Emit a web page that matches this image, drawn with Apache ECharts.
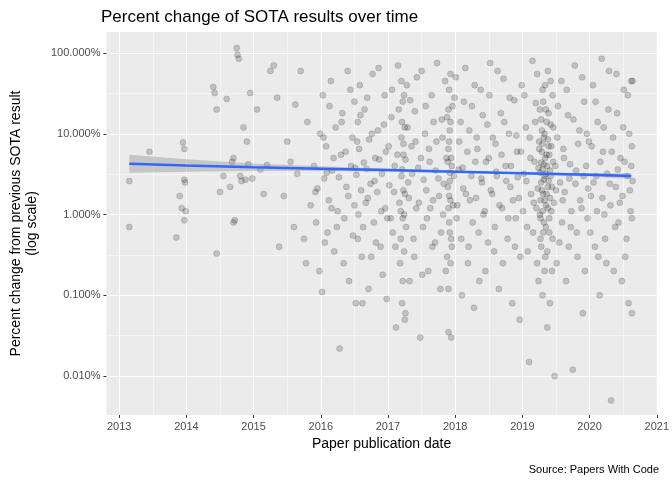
<!DOCTYPE html>
<html>
<head>
<meta charset="utf-8">
<script src="https://cdn.jsdelivr.net/npm/echarts@6/dist/echarts.min.js"></script>
<style>html,body{margin:0;background:#fff}#chart{width:672px;height:480px}</style>
</head>
<body>
<div id="chart"></div>
<script>
// paper date (decimal year), percent change vs previous SOTA (%)
var points = [
 [2013.15,2.6],[2013.15,0.7],[2013.45,6.0],[2013.9,1.7],[2013.95,7.8],[2013.97,6.5],[2013.97,2.7],[2013.98,2.5],[2013.97,0.85],[2013.93,1.2],[2013.85,0.52],[2013.99,1.1],
 [2014.4,38],[2014.42,32],[2014.45,20],[2014.45,0.33],[2014.55,3.0],[2014.5,1.9],[2014.6,27],[2014.65,2.2],[2014.68,4.5],[2014.7,0.8],[2014.72,0.85],[2014.7,5],[2014.75,115],[2014.76,95],[2014.78,85],[2014.8,3],[2014.82,2.6],[2014.85,12],[2014.9,8],[2014.95,32],[2014.98,2.8],[2014.88,2.7],[2014.92,4.2],
 [2015.05,20],[2015.1,3.6],[2015.15,1.8],[2015.2,4.1],[2015.25,60],[2015.3,70],[2015.35,28],[2015.38,0.4],[2015.45,1.7],[2015.5,8],[2015.55,4.5],[2015.6,0.7],[2015.62,23],[2015.65,3.2],[2015.7,60],[2015.75,0.5],[2015.78,0.25],[2015.8,14],[2015.85,1.3],[2015.9,4],[2015.93,0.8],[2015.95,2.1],[2015.98,0.2],[2015.99,10],
 [2016.02,0.11],[2016.03,30],[2016.05,2.8],[2016.08,7],[2016.1,0.6],[2016.12,1.5],[2016.15,45],[2016.17,3.5],[2016.2,0.35],[2016.22,12],[2016.25,1.1],[2016.28,0.022],[2016.3,5.5],[2016.32,18],[2016.35,0.9],[2016.38,2.2],[2016.4,60],[2016.42,0.15],[2016.45,4],[2016.47,9],[2016.5,25],[2016.5,1.3],[2016.52,0.08],[2016.53,3.1],[2016.55,14],[2016.55,0.5],[2016.57,6.5],[2016.58,40],[2016.6,2],[2016.62,0.08],[2016.63,0.7],[2016.65,20],[2016.68,3.7],[2016.7,1.6],[2016.72,8.5],[2016.75,0.3],[2016.77,55],[2016.8,2.6],[2016.82,0.45],[2016.85,11],[2016.87,4.8],[2016.9,1.1],[2016.92,0.18],[2016.95,30],[2016.97,6],[2016.99,0.9],
 [2017.02,2.3],[2017.05,16],[2017.07,0.6],[2017.1,4],[2017.12,0.04],[2017.15,70],[2017.17,1.4],[2017.18,0.25],[2017.2,9],[2017.2,3],[2017.21,0.08],[2017.22,0.9],[2017.22,25],[2017.23,5.5],[2017.24,0.35],[2017.25,1.8],[2017.25,12],[2017.26,0.06],[2017.28,40],[2017.3,2.5],[2017.32,0.15],[2017.35,7],[2017.38,0.5],[2017.4,19],[2017.42,1.2],[2017.45,3.8],[2017.48,0.03],[2017.5,60],[2017.52,0.7],[2017.55,10],[2017.57,2],[2017.6,0.2],[2017.62,4.5],[2017.65,30],[2017.67,1.5],[2017.7,0.45],[2017.72,8],[2017.75,2.8],[2017.78,0.12],[2017.8,15],[2017.82,1],[2017.85,45],[2017.87,5],[2017.88,0.3],[2017.89,2.2],[2017.9,0.035],[2017.9,20],[2017.9,6.5],[2017.91,0.8],[2017.91,1.7],[2017.92,3.3],[2017.92,11],[2017.93,0.25],[2017.93,55],[2017.94,0.5],[2017.95,4],[2017.97,1.3],[2017.99,28],
 [2018.02,0.9],[2018.05,3.6],[2018.08,14],[2018.1,0.1],[2018.12,2.1],[2018.15,65],[2018.18,6],[2018.2,0.4],[2018.22,1.5],[2018.25,22],[2018.28,0.07],[2018.3,4.5],[2018.32,9],[2018.35,0.6],[2018.38,35],[2018.4,2.5],[2018.42,1],[2018.45,0.2],[2018.48,13],[2018.5,5],[2018.52,75],[2018.55,1.8],[2018.58,0.35],[2018.6,7.5],[2018.62,3],[2018.65,0.12],[2018.68,18],[2018.7,1.2],[2018.72,48],[2018.75,4],[2018.78,0.5],[2018.8,10],[2018.82,2.2],[2018.85,0.08],[2018.88,26],[2018.9,0.9],[2018.92,6],[2018.95,1.6],[2018.97,0.3],[2018.99,40],
 [2019.02,3.2],[2019.05,12],[2019.07,0.7],[2019.1,0.015],[2019.12,5],[2019.15,80],[2019.17,1.4],[2019.2,24],[2019.22,0.25],[2019.24,3.8],[2019.25,8],[2019.26,1],[2019.27,0.5],[2019.28,15],[2019.28,2.5],[2019.29,6],[2019.3,0.1],[2019.3,35],[2019.31,1.8],[2019.32,4.2],[2019.32,0.8],[2019.33,10],[2019.33,3],[2019.34,0.3],[2019.35,20],[2019.35,1.3],[2019.36,5.5],[2019.37,0.04],[2019.38,2.2],[2019.38,60],[2019.39,7],[2019.4,0.6],[2019.41,3.5],[2019.42,13],[2019.43,1.1],[2019.44,0.2],[2019.45,30],[2019.46,4.5],[2019.48,0.01],[2019.5,2],[2019.52,9],[2019.55,0.45],[2019.58,45],[2019.6,1.5],[2019.62,5],[2019.65,0.15],[2019.68,17],[2019.7,2.8],[2019.72,0.7],[2019.75,0.012],[2019.78,70],[2019.8,3.5],[2019.82,0.3],[2019.85,11],[2019.88,1.2],[2019.9,0.06],[2019.92,25],[2019.95,4],[2019.97,0.9],[2019.99,8],
 [2020.02,1.7],[2020.05,40],[2020.08,0.4],[2020.1,3],[2020.12,14],[2020.15,0.1],[2020.18,85],[2020.2,6],[2020.22,1],[2020.25,0.25],[2020.28,20],[2020.3,2.4],[2020.32,0.005],[2020.35,9],[2020.38,0.7],[2020.4,55],[2020.42,3.6],[2020.45,1.4],[2020.48,0.15],[2020.5,12],[2020.52,4.5],[2020.55,0.5],[2020.57,30],[2020.58,0.08],[2020.6,2],[2020.62,45],[2020.63,7],[2020.63,0.9]
];
// second pass of read-off points, mostly from the dense 2016-2020 region
var pointsDense = [
 [2015.92,1.9],[2016.04,9],[2016.06,0.45],[2016.09,3.3],[2016.13,22],[2016.16,1.2],[2016.19,5],[2016.24,0.7],[2016.27,2.9],[2016.31,14],[2016.34,0.25],[2016.37,6],[2016.41,1.7],[2016.44,35],[2016.48,0.55],[2016.51,3.8],[2016.54,8],[2016.56,1],[2016.59,17],[2016.61,0.3],[2016.64,4.4],[2016.67,1.4],[2016.69,28],[2016.71,0.12],[2016.74,2.4],[2016.76,10],[2016.79,0.8],[2016.81,5],[2016.84,1.9],[2016.86,65],[2016.89,0.4],[2016.91,3.2],[2016.94,13],[2016.96,1.2],[2016.98,0.09],
 [2017.01,7],[2017.04,0.9],[2017.06,35],[2017.09,1.9],[2017.11,0.4],[2017.14,5.5],[2017.16,20],[2017.19,1.1],[2017.19,0.5],[2017.2,45],[2017.21,3.6],[2017.21,14],[2017.22,0.15],[2017.23,2],[2017.23,7.5],[2017.24,30],[2017.24,1],[2017.25,0.05],[2017.26,4.8],[2017.27,0.7],[2017.29,12],[2017.31,1.6],[2017.33,26],[2017.36,3.2],[2017.39,0.3],[2017.41,8],[2017.43,50],[2017.46,1.4],[2017.49,5],[2017.51,0.18],[2017.53,2.7],[2017.56,22],[2017.58,0.9],[2017.61,6.5],[2017.63,1.2],[2017.66,0.4],[2017.68,14],[2017.71,3.5],[2017.73,75],[2017.76,1.7],[2017.79,0.6],[2017.81,9],[2017.83,2.4],[2017.86,0.2],[2017.88,16],[2017.89,4.5],[2017.9,1.2],[2017.9,0.12],[2017.91,35],[2017.91,8],[2017.92,2.6],[2017.92,0.6],[2017.93,14],[2017.93,1.5],[2017.94,5],[2017.94,0.03],[2017.95,0.4],[2017.96,22],[2017.98,3],
 [2018.01,50],[2018.03,1.3],[2018.06,8],[2018.09,0.5],[2018.11,3.8],[2018.13,25],[2018.16,1.8],[2018.19,0.25],[2018.21,11],[2018.24,3],[2018.26,0.8],[2018.29,40],[2018.31,1.6],[2018.33,6.5],[2018.36,0.15],[2018.39,2.8],[2018.41,17],[2018.44,1.1],[2018.46,4.5],[2018.49,0.45],[2018.51,30],[2018.53,2],[2018.56,9],[2018.59,0.7],[2018.61,3.4],[2018.63,60],[2018.66,1.3],[2018.69,5.5],[2018.71,0.25],[2018.73,14],[2018.76,2.6],[2018.79,0.9],[2018.81,28],[2018.83,4],[2018.86,1.5],[2018.89,0.4],[2018.91,9.5],[2018.93,2.9],[2018.96,0.05],[2018.98,6],
 [2019.01,1.1],[2019.03,30],[2019.06,2.6],[2019.08,0.35],[2019.11,9],[2019.13,1.8],[2019.16,0.6],[2019.18,4.5],[2019.19,14],[2019.21,1.2],[2019.22,55],[2019.23,2.1],[2019.24,0.15],[2019.25,6.5],[2019.26,3.3],[2019.26,20],[2019.27,1.5],[2019.27,0.9],[2019.28,4.4],[2019.28,0.4],[2019.29,11],[2019.29,2],[2019.3,7.5],[2019.3,1.1],[2019.3,3.6],[2019.31,0.6],[2019.31,25],[2019.32,2.7],[2019.32,9],[2019.33,1.5],[2019.33,0.2],[2019.34,5],[2019.34,40],[2019.35,3.2],[2019.35,0.7],[2019.36,1.8],[2019.36,14],[2019.37,4],[2019.37,0.35],[2019.38,8.5],[2019.38,1.2],[2019.39,2.6],[2019.39,18],[2019.4,0.9],[2019.4,5.5],[2019.41,1.6],[2019.41,0.08],[2019.42,3],[2019.42,45],[2019.43,7],[2019.44,2.2],[2019.45,0.5],[2019.46,12],[2019.47,1.4],[2019.49,4],[2019.51,0.25],[2019.53,22],[2019.56,2.5],[2019.59,0.8],[2019.61,6.5],[2019.63,1.9],[2019.66,35],[2019.69,0.4],[2019.71,4.2],[2019.73,1.1],[2019.76,15],[2019.79,2.4],[2019.81,0.6],[2019.83,7.5],[2019.86,1.5],[2019.89,50],[2019.91,3],[2019.93,0.2],[2019.96,10],[2019.98,2.1],
 [2020.01,0.6],[2020.03,7],[2020.06,2.5],[2020.09,25],[2020.11,1.1],[2020.13,0.3],[2020.16,4.5],[2020.19,1.6],[2020.21,12],[2020.23,0.5],[2020.26,3.2],[2020.29,60],[2020.31,1.3],[2020.33,6],[2020.36,0.2],[2020.39,2.2],[2020.41,18],[2020.43,0.8],[2020.46,5],[2020.49,1.7],[2020.51,35],[2020.53,0.3],[2020.56,3],[2020.59,10],[2020.61,1.1],[2020.62,4],[2020.63,0.06],[2020.64,45],[2020.64,2.6]
];
// fitted trend with confidence band (%)
var fitX = [2013.15, 2014, 2015, 2016, 2017, 2018, 2019, 2020, 2020.62];
var fitY = [4.25, 4.05, 3.85, 3.7, 3.55, 3.4, 3.25, 3.1, 3.0];
var fitLo = [3.3, 3.4, 3.45, 3.45, 3.4, 3.3, 3.15, 2.95, 2.75];
var fitHi = [5.5, 4.85, 4.3, 3.95, 3.7, 3.5, 3.35, 3.25, 3.25];
var xTicks = [2013, 2014, 2015, 2016, 2017, 2018, 2019, 2020, 2021];
var xMinor = [2013.5, 2014.5, 2015.5, 2016.5, 2017.5, 2018.5, 2019.5, 2020.5];
var yTicks = [0.01, 0.1, 1, 10, 100];
var yMinor = [0.0316, 0.316, 3.16, 31.6];

var chart = echarts.init(document.getElementById('chart'));
var lbl = {color: '#4D4D4D', fontSize: 11, fontFamily: 'Liberation Sans'};
var bandPoly = fitX.map(function (x, i) { return [x, fitLo[i]]; })
  .concat(fitX.slice().reverse().map(function (x, i) { return [x, fitHi[fitX.length - 1 - i]]; }));
var dotStyle = {color: 'rgba(0,0,0,0.22)', borderColor: 'rgba(0,0,0,0.3)', borderWidth: 0.6};

chart.setOption({
  backgroundColor: '#fff',
  animation: false,
  textStyle: {fontFamily: 'Liberation Sans'},
  title: [
    {text: 'Percent change of SOTA results over time', left: 96, top: 4,
     textStyle: {fontSize: 17, fontWeight: 'normal', color: '#000', fontFamily: 'Liberation Sans'}},
    {text: 'Source: Papers With Code', right: 8, top: 459,
     textStyle: {fontSize: 11, fontWeight: 'normal', color: '#000', fontFamily: 'Liberation Sans'}}
  ],
  grid: [{left: 100, right: 10, top: 32, bottom: 65, backgroundColor: '#EBEBEB', show: true, borderWidth: 0}],
  xAxis: [
    {type: 'value', min: 2012.81, max: 2021, name: 'Paper publication date', nameLocation: 'middle', nameGap: 22,
     nameTextStyle: {fontSize: 14, color: '#000'},
     axisLine: {show: false}, axisTick: {show: true, length: 3, lineStyle: {color: '#333'}, customValues: xTicks},
     axisLabel: Object.assign({customValues: xTicks, margin: 6, formatter: function (v) { return String(Math.round(v)); }}, lbl),
     splitLine: {show: true, lineStyle: {color: '#fff', width: 1.1}}},
    {type: 'value', min: 2012.81, max: 2021, position: 'bottom', show: true,
     axisLine: {show: false}, axisLabel: {show: false}, axisTick: {show: false, customValues: xMinor},
     splitLine: {show: true, lineStyle: {color: '#fff', width: 0.5}}}
  ],
  yAxis: [
    {type: 'log', logBase: 10, min: 0.0033, max: 182,
     name: 'Percent change from previous SOTA result\n(log scale)', nameLocation: 'middle', nameGap: 58,
     nameTextStyle: {fontSize: 14, color: '#000', lineHeight: 16},
     axisLine: {show: false}, axisTick: {show: true, length: 3, lineStyle: {color: '#333'}, customValues: yTicks},
     axisLabel: Object.assign({customValues: yTicks, margin: 6, formatter: function (v) { return v.toFixed(3) + '%'; }}, lbl),
     splitLine: {show: true, lineStyle: {color: '#fff', width: 1.1}}},
    {type: 'log', logBase: 10, min: 0.0033, max: 182, position: 'left',
     axisLine: {show: false}, axisLabel: {show: false}, axisTick: {show: false, customValues: yMinor},
     splitLine: {show: true, lineStyle: {color: '#fff', width: 0.5}}}
  ],
  series: [
    {type: 'scatter', data: points, symbolSize: 6, z: 3, itemStyle: dotStyle},
    {type: 'scatter', data: pointsDense, symbolSize: 6, z: 3, itemStyle: dotStyle},
    {type: 'custom', z: 4, data: [0],
     renderItem: function (params, api) {
       return {type: 'polygon', shape: {points: bandPoly.map(function (p) { return api.coord(p); })},
               style: {fill: 'rgba(153,153,153,0.45)'}};
     }},
    {type: 'line', data: fitX.map(function (x, i) { return [x, fitY[i]]; }), showSymbol: false, z: 5,
     lineStyle: {color: '#3366FF', width: 2.5}}
  ]
});
</script>
</body>
</html>
